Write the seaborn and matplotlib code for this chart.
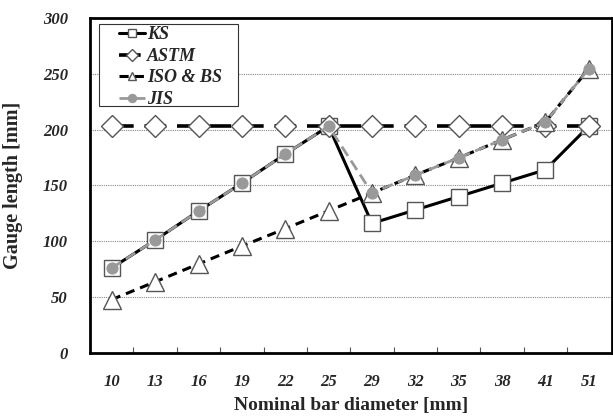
import matplotlib
matplotlib.use("Agg")
import matplotlib.pyplot as plt
import matplotlib.patches as mpatches
import seaborn as sns
import pandas as pd

categories = ["10", "13", "16", "19", "22", "25", "29", "32", "35", "38", "41", "51"]
ks = [76, 101, 127, 152, 178, 203, 116, 128, 140, 152, 164, 203]
astm = [203] * 12
iso_bs = [47.7, 63.6, 79.6, 95.6, 111.2, 127.2, 143.2, 159.2, 174.7, 190.8, 206.8, 254.4]
jis = [76, 101, 127, 152, 178, 203, 143.2, 159.2, 174.7, 190.8, 206.8, 254.4]
yticks = [0, 50, 100, 150, 200, 250, 300]

sns.set_theme(style="white")
plt.rcParams["font.family"] = ["Liberation Serif", "DejaVu Serif"]

fig = plt.figure(figsize=(6.13, 4.18), dpi=100)
ax = fig.add_axes([0.147, 0.156, 0.851, 0.801])

ax.grid(axis="y", color="#888888", linestyle=(0, (1, 1)), linewidth=0.8)
ax.set_axisbelow(True)

df = pd.DataFrame({"d": categories, "KS": ks, "ASTM": astm, "ISO & BS": iso_bs, "JIS": jis})

sns.lineplot(data=df, x="d", y="KS", ax=ax, color="black", linewidth=2.2,
             marker="s", markersize=12, markerfacecolor="white",
             markeredgecolor="#555555", markeredgewidth=1.0, label="KS", sort=False)
sns.lineplot(data=df, x="d", y="ASTM", ax=ax, color="black", linewidth=2.6,
             linestyle=(0, (6, 3)), marker="D", markersize=11, markerfacecolor="white",
             markeredgecolor="#555555", markeredgewidth=1.0, label="ASTM", sort=False)
sns.lineplot(data=df, x="d", y="ISO & BS", ax=ax, color="black", linewidth=2.2,
             linestyle=(0, (3, 2)), marker="^", markersize=13, markerfacecolor="white",
             markeredgecolor="#555555", markeredgewidth=1.0, label="ISO & BS", sort=False)
sns.lineplot(data=df, x="d", y="JIS", ax=ax, color="#999999", linewidth=2.0,
             linestyle=(0, (4, 2)), marker="o", markersize=8, markerfacecolor="#999999",
             markeredgecolor="#999999", label="JIS", sort=False)

ax.set_xlim(-0.5, 11.53)
ax.set_ylim(0, 300)
ax.set_yticks(yticks)
ax.set_yticklabels([str(v) for v in yticks], fontsize=12, fontweight="bold", style="italic")
ax.set_xticks(range(len(categories)))
ax.set_xticklabels(categories, fontsize=12, fontweight="bold", style="italic")
ax.set_xticks([i + 0.5 for i in range(len(categories) - 1)], minor=True)
ax.tick_params(axis="x", which="major", length=0, pad=15)
ax.tick_params(axis="x", which="minor", direction="in", length=4, width=0.8, color="#555555", bottom=True)
ax.tick_params(axis="y", which="major", length=0, pad=16)

for s in ax.spines.values():
    s.set_visible(True)
    s.set_color("black")
    s.set_linewidth(2.0)

ax.set_xlabel("Nominal bar diameter [mm]", fontsize=14, fontweight="bold", labelpad=5)
ax.set_ylabel("Gauge length [mm]", fontsize=14.5, fontweight="bold", labelpad=14)

# legend frame drawn separately to get the reference's padding
frame = mpatches.Rectangle((0.017, 0.737), 0.267, 0.245, transform=ax.transAxes,
                           facecolor="white", edgecolor="#333333", linewidth=0.8, zorder=4)
ax.add_patch(frame)

leg = ax.legend(loc="upper left", frameon=False,
                prop={"weight": "bold", "style": "italic", "size": 13},
                handlelength=1.4, handletextpad=0.15, labelspacing=0.25, borderpad=0,
                bbox_to_anchor=(0.056, 0.975), borderaxespad=0)
leg.set_zorder(5)
for h in leg.legend_handles:
    h.set_markersize(6)

fig.savefig("out.png", dpi=100)
